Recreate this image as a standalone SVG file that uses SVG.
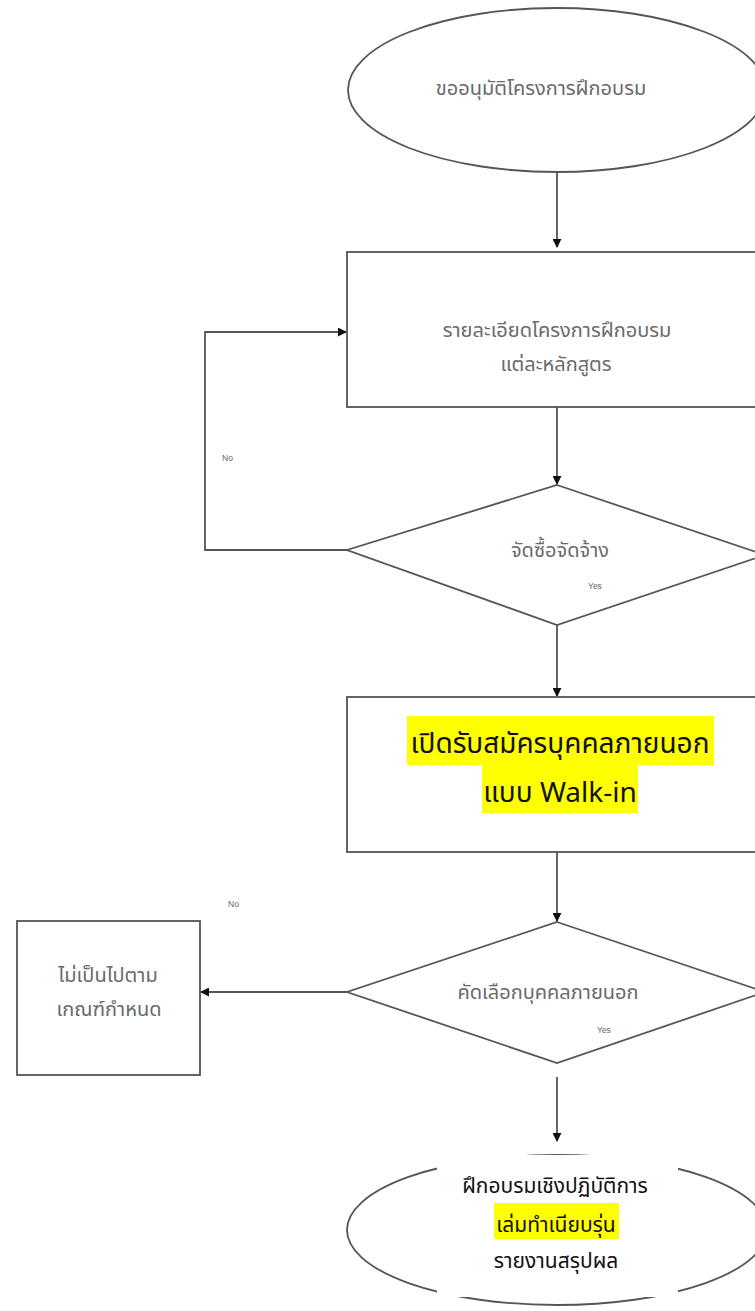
<svg xmlns="http://www.w3.org/2000/svg" width="755" height="1311" viewBox="0 0 755 1311">
<defs>
<marker id="ah" viewBox="0 0 10 10" refX="9" refY="5" markerWidth="5" markerHeight="5" orient="auto" markerUnits="strokeWidth">
<path d="M0,0 L10,5 L0,10 z" fill="#111"/>
</marker>
<style>
.sh{fill:#fff;stroke:#555;stroke-width:1.8}
.ln{fill:none;stroke:#555;stroke-width:1.8}
.t{font-family:"Noto Sans Thai","Noto Sans","DejaVu Sans",sans-serif;fill:#6a6a6a;font-size:20px;text-anchor:middle}
.big{font-family:"Noto Sans Thai","Noto Sans","DejaVu Sans",sans-serif;fill:#111;text-anchor:middle}
.sm{font-family:"Liberation Sans",sans-serif;fill:#666;font-size:8.5px}
.hl{fill:#ffff00}
</style>
</defs>
<rect width="755" height="1311" fill="#fff"/>
<g id="connectors">
<path class="ln" d="M557,172 V247" marker-end="url(#ah)"/>
<path class="ln" d="M557,407 V484" marker-end="url(#ah)"/>
<path class="ln" d="M347,550 H205 V332 H346" marker-end="url(#ah)"/>
<path class="ln" d="M557,625 V696" marker-end="url(#ah)"/>
<path class="ln" d="M557,852 V921" marker-end="url(#ah)"/>
<path class="ln" d="M347,992 H201" marker-end="url(#ah)"/>
<path class="ln" d="M557,1077 V1141" marker-end="url(#ah)"/>
</g>
<g id="start">
<ellipse class="sh" cx="557" cy="90" rx="209" ry="82"/>
<text class="t" x="541" y="95">ขออนุมัติโครงการฝึกอบรม</text>
</g>
<g id="details">
<rect class="sh" x="347" y="252" width="420" height="155"/>
<text class="t" x="557" y="337">รายละเอียดโครงการฝึกอบรม</text>
<text class="t" x="556" y="371">แต่ละหลักสูตร</text>
</g>
<g id="procure">
<polygon class="sh" points="557,485 765,555 557,625 347,550"/>
<text class="t" x="560" y="557">จัดซื้อจัดจ้าง</text>
</g>
<g id="walkin">
<rect class="sh" x="347" y="697" width="420" height="155"/>
<rect class="hl" x="407" y="716" width="307" height="49"/>
<rect class="hl" x="482" y="765" width="156" height="48"/>
<text class="big" x="560" y="753" font-size="28">เปิดรับสมัครบุคคลภายนอก</text>
<text class="big" x="560" y="802" font-size="28">แบบ Walk-in</text>
</g>
<g id="select">
<polygon class="sh" points="557,922 765,992 557,1063 347,992"/>
<text class="t" x="548" y="999">คัดเลือกบุคคลภายนอก</text>
</g>
<g id="reject">
<rect class="sh" x="17" y="921" width="183" height="154"/>
<text class="t" x="108" y="982">ไม่เป็นไปตาม</text>
<text class="t" x="109" y="1016">เกณฑ์กำหนด</text>
</g>
<g id="training">
<ellipse class="sh" cx="557" cy="1230" rx="210" ry="75"/>
<rect fill="#fff" x="437" y="1155" width="241" height="142"/>
<rect class="hl" x="494" y="1203" width="125" height="36"/>
<text class="big" x="555" y="1193" font-size="21">ฝึกอบรมเชิงปฏิบัติการ</text>
<text class="big" x="556" y="1232" font-size="21">เล่มทำเนียบรุ่น</text>
<text class="big" x="556" y="1268" font-size="21">รายงานสรุปผล</text>
</g>
<g id="labels">
<text class="sm" x="222" y="461">No</text>
<text class="sm" x="588" y="589">Yes</text>
<text class="sm" x="228" y="907">No</text>
<text class="sm" x="597" y="1033">Yes</text>
</g>
</svg>
